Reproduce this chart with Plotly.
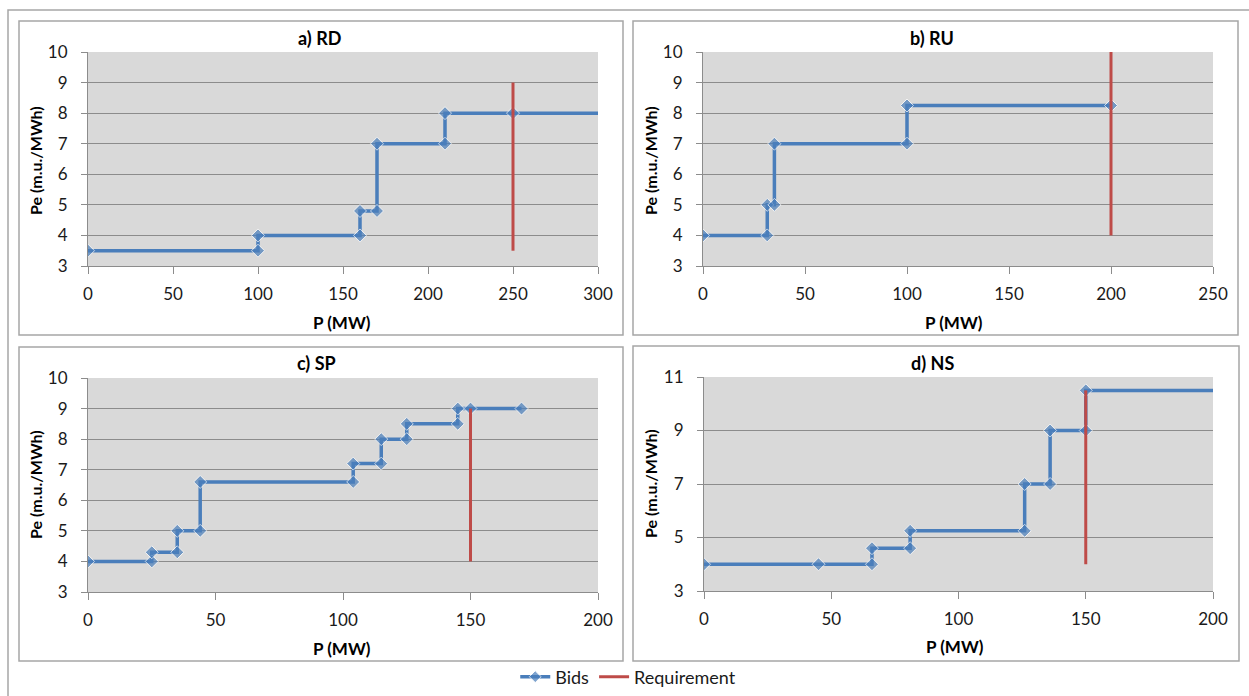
import plotly.graph_objects as go

# ---------------- data ----------------
rd_p = [0, 100, 100, 160, 160, 170, 170, 210, 210, 250, 300]
rd_pe = [3.5, 3.5, 4, 4, 4.8, 4.8, 7, 7, 8, 8, 8]
rd_req_p = [250, 250]
rd_req_pe = [3.5, 9]

ru_p = [0, 31.5, 31.5, 35, 35, 100, 100, 200]
ru_pe = [4, 4, 5, 5, 7, 7, 8.25, 8.25]
ru_req_p = [200, 200]
ru_req_pe = [4, 10]

sp_p = [0, 25, 25, 35, 35, 44, 44, 104, 104, 115, 115, 125, 125, 145, 145, 150, 170]
sp_pe = [4, 4, 4.3, 4.3, 5, 5, 6.6, 6.6, 7.2, 7.2, 8, 8, 8.5, 8.5, 9, 9, 9]
sp_req_p = [150, 150]
sp_req_pe = [4, 9]

ns_p = [0, 45, 66, 66, 81, 81, 126, 126, 136, 136, 150, 150, 200]
ns_pe = [4, 4, 4, 4.6, 4.6, 5.25, 5.25, 7, 7, 9, 9, 10.5, 10.5]
ns_req_p = [150, 150]
ns_req_pe = [4, 10.5]

titles = ["a) RD", "b) RU", "c) SP", "d) NS"]
x_ranges = [[0, 300], [0, 250], [0, 200], [0, 200]]
y_ranges = [[3, 10], [3, 10], [3, 10], [3, 11]]
y_dticks = [1, 1, 1, 2]

# ---------------- styling ----------------
W, H = 1249, 696
BLUE = "#4a7ebb"
RED = "#be4b48"
GRID = "#8c8c8c"
FRAME = "#a6a6a6"
FONT = "Lato"

# plot-area pixel boxes (x0, x1, ytop, ybottom)
boxes = [(88, 598, 52, 266), (703, 1213, 52, 266), (88, 598, 378, 592), (704, 1213, 377, 591)]
frames = [(19, 623, 21, 335), (633, 1238, 21, 335), (19, 623, 347, 661), (633, 1239, 346, 661)]
title_pos = [(319, 38), (932, 38), (316, 363), (932, 363)]
xt_pos = [(342, 322), (954, 322), (342, 648), (955, 646)]
yt_pos = [(35, 161), (650, 161), (35, 485), (650, 484)]


def px(x):
    return x / W


def py(y):
    return 1 - y / H


series = [(rd_p, rd_pe, rd_req_p, rd_req_pe), (ru_p, ru_pe, ru_req_p, ru_req_pe),
          (sp_p, sp_pe, sp_req_p, sp_req_pe), (ns_p, ns_pe, ns_req_p, ns_req_pe)]
# markers hidden where the step line only runs on to the axis edge
end_marker_hidden = [True, False, False, True]

fig = go.Figure()
for i, (bp, bpe, rp, rpe) in enumerate(series):
    k = "" if i == 0 else str(i + 1)
    sizes = [10] * len(bp)
    if end_marker_hidden[i]:
        sizes[-1] = 0
    fig.add_trace(go.Scatter(x=bp, y=bpe, mode="lines+markers", name="Bids",
                             line=dict(color=BLUE, width=3.5),
                             marker=dict(symbol="diamond", size=sizes, color=BLUE),
                             xaxis="x" + k, yaxis="y" + k, showlegend=(i == 0),
                             legendgroup="bids"))
    fig.add_trace(go.Scatter(x=rp, y=rpe, mode="lines", name="Requirement",
                             line=dict(color=RED, width=3),
                             xaxis="x" + k, yaxis="y" + k, showlegend=(i == 0),
                             legendgroup="req"))

layout = dict(width=W, height=H,
              margin=dict(l=0, r=0, t=0, b=0, pad=0, autoexpand=False),
              paper_bgcolor="white", plot_bgcolor="#d9d9d9",
              font=dict(family=FONT, size=17, color="#1a1a1a"),
              showlegend=True,
              legend=dict(orientation="h", x=0.503, xanchor="center", y=py(677), yanchor="middle",
                          font=dict(family=FONT, size=18, color="#1a1a1a"),
                          bgcolor="rgba(0,0,0,0)", itemwidth=30, traceorder="normal"))

shapes = []
annotations = []
for i in range(4):
    k = "" if i == 0 else str(i + 1)
    x0, x1, yt, yb = boxes[i]
    layout["xaxis" + k] = dict(domain=[px(x0), px(x1)], range=x_ranges[i], dtick=50, tick0=0,
                               showgrid=False, zeroline=False, showline=True, linecolor=GRID,
                               linewidth=1, ticks="outside", ticklen=7, tickcolor=GRID,
                               ticklabelstandoff=6, anchor="y" + k, fixedrange=True,
                               automargin=False, tickfont=dict(size=17))
    layout["yaxis" + k] = dict(domain=[py(yb), py(yt)], range=y_ranges[i], dtick=y_dticks[i],
                               tick0=3, showgrid=True, gridcolor=GRID, gridwidth=1,
                               zeroline=False, showline=True, linecolor=GRID, linewidth=1,
                               ticks="outside", ticklen=6, tickcolor=GRID,
                               ticklabelstandoff=10, anchor="x" + k, fixedrange=True,
                               automargin=False, tickfont=dict(size=17))
    fx0, fx1, fyt, fyb = frames[i]
    shapes.append(dict(type="rect", xref="paper", yref="paper", x0=px(fx0), x1=px(fx1),
                       y0=py(fyb), y1=py(fyt), line=dict(color=FRAME, width=1.5), layer="below"))
    tx, ty = title_pos[i]
    annotations.append(dict(text="<b>%s</b>" % titles[i], x=px(tx), y=py(ty), xref="paper",
                            yref="paper", showarrow=False, xanchor="center", yanchor="middle",
                            font=dict(family=FONT, size=18, color="#000")))
    ax, ay = xt_pos[i]
    annotations.append(dict(text="<b>P (MW)</b>", x=px(ax), y=py(ay), xref="paper",
                            yref="paper", showarrow=False, xanchor="center", yanchor="middle",
                            font=dict(family=FONT, size=17, color="#000")))
    bx, by = yt_pos[i]
    annotations.append(dict(text="<b>Pe (m.u./MWh)</b>", x=px(bx), y=py(by), xref="paper",
                            yref="paper", showarrow=False, xanchor="center", yanchor="middle",
                            textangle=-90, font=dict(family=FONT, size=16, color="#000")))

# outer chart border
shapes.append(dict(type="rect", xref="paper", yref="paper", x0=px(8), x1=px(1262),
                   y0=py(710), y1=py(10), line=dict(color=FRAME, width=1.5), layer="below"))

layout["shapes"] = shapes
layout["annotations"] = annotations
fig.update_layout(**layout)
fig.write_html("out.html")
